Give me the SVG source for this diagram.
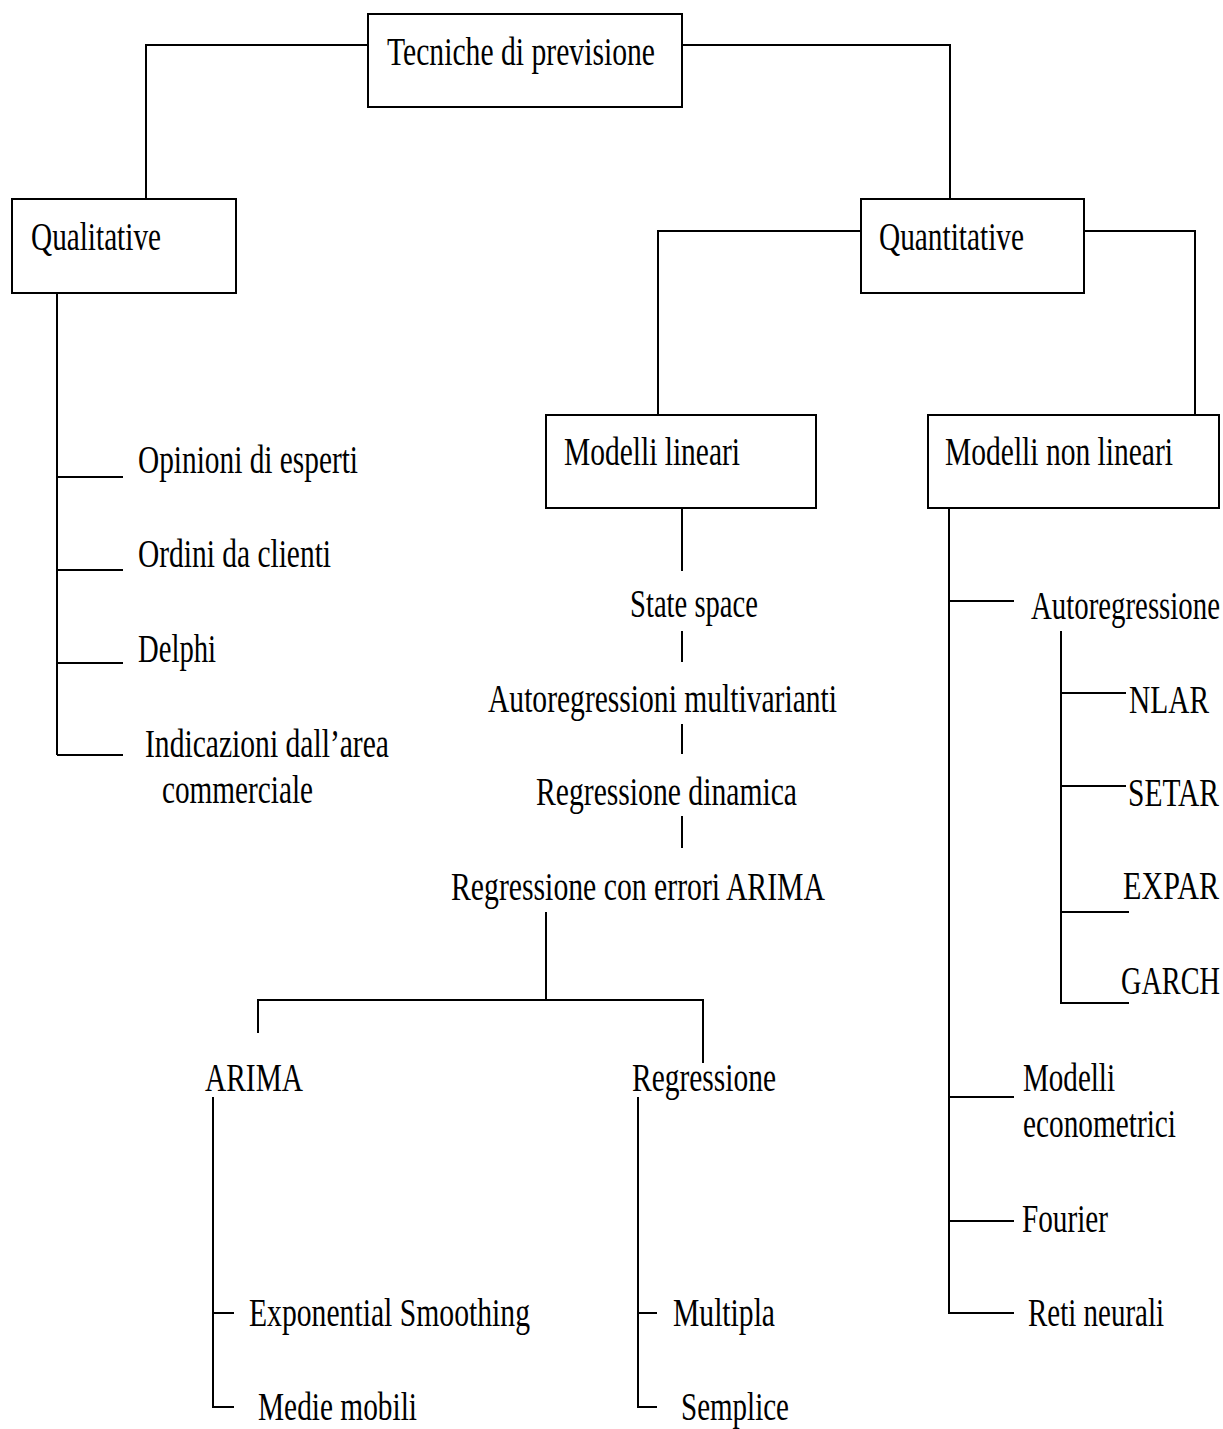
<svg xmlns="http://www.w3.org/2000/svg" width="1223" height="1429" viewBox="0 0 1223 1429">
  <style>
    .box { fill: #ffffff; stroke: #000000; stroke-width: 2; }
    .ln { fill: none; stroke: #000000; stroke-width: 2; }
    /* narrow, tall serif lettering: 29px glyphs stretched vertically */
    text { font-family: "Liberation Serif", "Times New Roman", serif; font-size: 29px; fill: #000000; }
  </style>
  <rect width="1223" height="1429" fill="#ffffff"/>

  <!-- connectors -->
  <g id="connectors" class="ln">
    <!-- root to first level -->
    <polyline points="368,45 146,45 146,199"/>
    <polyline points="682,45 950,45 950,199"/>
    <!-- qualitative list -->
    <polyline points="57,293 57,755"/>
    <line x1="57" y1="477" x2="123" y2="477"/>
    <line x1="57" y1="570" x2="123" y2="570"/>
    <line x1="57" y1="663" x2="123" y2="663"/>
    <line x1="57" y1="755" x2="123" y2="755"/>
    <!-- quantitative to models -->
    <polyline points="861,231 658,231 658,415"/>
    <polyline points="1084,231 1195,231 1195,415"/>
    <!-- linear chain -->
    <line x1="682" y1="508" x2="682" y2="571"/>
    <line x1="682" y1="631" x2="682" y2="662"/>
    <line x1="682" y1="724" x2="682" y2="754"/>
    <line x1="682" y1="816" x2="682" y2="848"/>
    <line x1="546" y1="912" x2="546" y2="1000"/>
    <polyline points="258,1033 258,1000 703,1000 703,1063"/>
    <!-- ARIMA children -->
    <polyline points="213,1097 213,1407 234,1407"/>
    <line x1="213" y1="1313" x2="234" y2="1313"/>
    <!-- Regressione children -->
    <polyline points="638,1097 638,1407 657,1407"/>
    <line x1="638" y1="1313" x2="657" y2="1313"/>
    <!-- non-linear list -->
    <polyline points="949,508 949,1313 1014,1313"/>
    <line x1="949" y1="601" x2="1014" y2="601"/>
    <line x1="949" y1="1097" x2="1014" y2="1097"/>
    <line x1="949" y1="1221" x2="1014" y2="1221"/>
    <!-- autoregression sub-list -->
    <polyline points="1061,631 1061,1003 1129,1003"/>
    <line x1="1061" y1="693" x2="1126" y2="693"/>
    <line x1="1061" y1="786" x2="1126" y2="786"/>
    <line x1="1061" y1="912" x2="1129" y2="912"/>
  </g>

  <!-- boxed nodes -->
  <g id="node-tecniche">
    <rect class="box" x="368" y="14" width="314" height="93"/>
    <text transform="translate(387 65) scale(1 1.41)" textLength="268" lengthAdjust="spacingAndGlyphs">Tecniche di previsione</text>
  </g>
  <g id="node-qualitative">
    <rect class="box" x="12" y="199" width="224" height="94"/>
    <text transform="translate(31 250) scale(1 1.41)" textLength="130" lengthAdjust="spacingAndGlyphs">Qualitative</text>
  </g>
  <g id="node-quantitative">
    <rect class="box" x="861" y="199" width="223" height="94"/>
    <text transform="translate(879 250) scale(1 1.41)" textLength="145" lengthAdjust="spacingAndGlyphs">Quantitative</text>
  </g>
  <g id="node-modelli-lineari">
    <rect class="box" x="546" y="415" width="270" height="93"/>
    <text transform="translate(564 465) scale(1 1.41)" textLength="176" lengthAdjust="spacingAndGlyphs">Modelli lineari</text>
  </g>
  <g id="node-modelli-non-lineari">
    <rect class="box" x="928" y="415" width="291" height="93"/>
    <text transform="translate(945 465) scale(1 1.41)" textLength="228" lengthAdjust="spacingAndGlyphs">Modelli non lineari</text>
  </g>

  <!-- qualitative items -->
  <g id="node-opinioni"><text transform="translate(138 473) scale(1 1.41)" textLength="220" lengthAdjust="spacingAndGlyphs">Opinioni di esperti</text></g>
  <g id="node-ordini"><text transform="translate(138 567) scale(1 1.41)" textLength="193" lengthAdjust="spacingAndGlyphs">Ordini da clienti</text></g>
  <g id="node-delphi"><text transform="translate(138 662) scale(1 1.41)" textLength="78" lengthAdjust="spacingAndGlyphs">Delphi</text></g>
  <g id="node-indicazioni">
    <text transform="translate(145 757) scale(1 1.41)" textLength="244" lengthAdjust="spacingAndGlyphs">Indicazioni dall’area</text>
    <text transform="translate(162 803) scale(1 1.41)" textLength="151" lengthAdjust="spacingAndGlyphs">commerciale</text>
  </g>

  <!-- linear models chain -->
  <g id="node-state-space"><text transform="translate(630 617) scale(1 1.41)" textLength="128" lengthAdjust="spacingAndGlyphs">State space</text></g>
  <g id="node-autoreg-multi"><text transform="translate(488 712) scale(1 1.41)" textLength="349" lengthAdjust="spacingAndGlyphs">Autoregressioni multivarianti</text></g>
  <g id="node-regr-dinamica"><text transform="translate(536 805) scale(1 1.41)" textLength="261" lengthAdjust="spacingAndGlyphs">Regressione dinamica</text></g>
  <g id="node-regr-arima"><text transform="translate(451 900) scale(1 1.41)" textLength="374" lengthAdjust="spacingAndGlyphs">Regressione con errori ARIMA</text></g>
  <g id="node-arima"><text transform="translate(205 1091) scale(1 1.41)" textLength="98" lengthAdjust="spacingAndGlyphs">ARIMA</text></g>
  <g id="node-regressione"><text transform="translate(632 1091) scale(1 1.41)" textLength="144" lengthAdjust="spacingAndGlyphs">Regressione</text></g>
  <g id="node-exp-smoothing"><text transform="translate(249 1326) scale(1 1.41)" textLength="281" lengthAdjust="spacingAndGlyphs">Exponential Smoothing</text></g>
  <g id="node-medie-mobili"><text transform="translate(258 1420) scale(1 1.41)" textLength="159" lengthAdjust="spacingAndGlyphs">Medie mobili</text></g>
  <g id="node-multipla"><text transform="translate(673 1326) scale(1 1.41)" textLength="102" lengthAdjust="spacingAndGlyphs">Multipla</text></g>
  <g id="node-semplice"><text transform="translate(681 1420) scale(1 1.41)" textLength="108" lengthAdjust="spacingAndGlyphs">Semplice</text></g>

  <!-- non-linear models -->
  <g id="node-autoregressione"><text transform="translate(1031 619) scale(1 1.41)" textLength="189" lengthAdjust="spacingAndGlyphs">Autoregressione</text></g>
  <g id="node-nlar"><text transform="translate(1129 713) scale(1 1.41)" textLength="80" lengthAdjust="spacingAndGlyphs">NLAR</text></g>
  <g id="node-setar"><text transform="translate(1128 806) scale(1 1.41)" textLength="91" lengthAdjust="spacingAndGlyphs">SETAR</text></g>
  <g id="node-expar"><text transform="translate(1123 899) scale(1 1.41)" textLength="96" lengthAdjust="spacingAndGlyphs">EXPAR</text></g>
  <g id="node-garch"><text transform="translate(1121 994) scale(1 1.41)" textLength="99" lengthAdjust="spacingAndGlyphs">GARCH</text></g>
  <g id="node-econometrici">
    <text transform="translate(1023 1091) scale(1 1.41)" textLength="92" lengthAdjust="spacingAndGlyphs">Modelli</text>
    <text transform="translate(1023 1137) scale(1 1.41)" textLength="153" lengthAdjust="spacingAndGlyphs">econometrici</text>
  </g>
  <g id="node-fourier"><text transform="translate(1022 1232) scale(1 1.41)" textLength="86" lengthAdjust="spacingAndGlyphs">Fourier</text></g>
  <g id="node-reti-neurali"><text transform="translate(1028 1326) scale(1 1.41)" textLength="136" lengthAdjust="spacingAndGlyphs">Reti neurali</text></g>
</svg>
